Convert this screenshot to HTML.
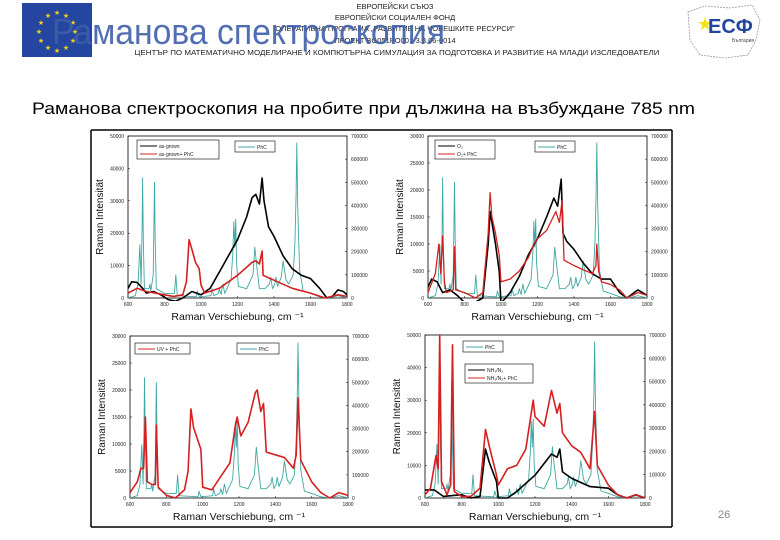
<!DOCTYPE html>
<html><head><meta charset="utf-8"><style>
html,body{margin:0;padding:0;background:#fff;}
svg{display:block;font-family:"Liberation Sans","DejaVu Sans",sans-serif;}
</style></head><body>
<svg id="slide" width="780" height="540" viewBox="0 0 780 540" xmlns="http://www.w3.org/2000/svg">
<g>
<rect x="22" y="3" width="70" height="54" fill="#2446a0"/>
<g fill="#f2d21c" font-size="7" text-anchor="middle">
<text x="57" y="15">★</text><text x="66" y="18">★</text><text x="73" y="25">★</text><text x="75" y="34">★</text><text x="73" y="43">★</text><text x="66" y="50">★</text><text x="57" y="53">★</text><text x="48" y="50">★</text><text x="41" y="43">★</text><text x="39" y="34">★</text><text x="41" y="25">★</text><text x="48" y="18">★</text>
</g></g>
<g font-size="7.5" fill="#222" text-anchor="middle">
<text x="395" y="9">ЕВРОПЕЙСКИ СЪЮЗ</text>
<text x="395" y="20">ЕВРОПЕЙСКИ СОЦИАЛЕН ФОНД</text>
<text x="395" y="31">ОПЕРАТИВНА ПРОГРАМА „РАЗВИТИЕ НА ЧОВЕШКИТЕ РЕСУРСИ"</text>
<text x="395" y="43">ПРОЕКТ BG051PO001-3.3.06-0014</text>
<text x="397" y="55" textLength="525" lengthAdjust="spacingAndGlyphs">ЦЕНТЪР ПО МАТЕМАТИЧНО МОДЕЛИРАНЕ И КОМПЮТЪРНА СИМУЛАЦИЯ ЗА ПОДГОТОВКА И РАЗВИТИЕ НА МЛАДИ ИЗСЛЕДОВАТЕЛИ</text>
</g>
<text x="52" y="44" font-size="36" fill="#3d5ea8" fill-opacity="0.9" textLength="393" lengthAdjust="spacingAndGlyphs">Раманова спектроскопия</text>
<g>
<path d="M688 12 L705 6 L730 8 L752 5 L760 20 L756 40 L748 55 L725 58 L700 55 L690 40 Z" fill="none" stroke="#999" stroke-dasharray="2,1" stroke-width="0.8"/>
<text x="697" y="30" font-size="18" fill="#f2e21c">★</text>
<text x="708" y="33" font-size="20" fill="#2446a0" font-weight="bold">ЕСФ</text>
<text x="732" y="42" font-size="5" fill="#444">България</text>
</g>
<text x="32" y="114" font-size="17" fill="#000" textLength="663" lengthAdjust="spacingAndGlyphs">Раманова спектроскопия на пробите при дължина на възбуждане 785 nm</text>
<g stroke="#000" stroke-width="1.5" fill="none">
<line x1="91" y1="130" x2="672" y2="130"/><line x1="91" y1="130" x2="91" y2="527"/>
<line x1="91" y1="527" x2="672" y2="527"/><line x1="672" y1="130" x2="672" y2="527"/>
</g>
<text x="718" y="518" font-size="11" fill="#888">26</text>
<g id="charts"></g>
</svg>
<script>
const xTicks = [600, 800, 1000, 1200, 1400, 1600, 1800];
const rightTicks = [0, 100000, 200000, 300000, 400000, 500000, 600000, 700000];
const phcX = [600,640,655,665,672,677,680,684,690,715,720,725,738,742,745,749,755,800,855,862,870,975,980,990,1055,1060,1070,1095,1100,1110,1115,1120,1130,1165,1175,1180,1185,1190,1195,1205,1250,1285,1295,1305,1320,1350,1375,1382,1392,1405,1410,1420,1440,1450,1465,1480,1505,1515,1521,1525,1530,1540,1560,1600,1650,1700,1750,1800];
const phcY = [0,10000,60000,230000,60000,300000,520000,250000,40000,40000,60000,30000,100000,300000,500000,250000,40000,20000,20000,100000,10000,5000,30000,5000,10000,40000,10000,20000,40000,15000,40000,60000,20000,80000,200000,330000,220000,340000,150000,50000,40000,100000,220000,140000,40000,40000,60000,90000,40000,60000,90000,50000,90000,160000,80000,60000,100000,250000,450000,670000,400000,120000,30000,20000,5000,0,10000,0];
const tlBlackX = [600,620,650,680,700,740,780,820,860,900,950,1000,1050,1100,1150,1200,1250,1280,1300,1320,1335,1345,1370,1400,1450,1500,1550,1600,1650,1690,1720,1750,1780,1800];
const tlBlackY = [3000,5000,4800,3000,1500,2000,1000,-500,-1000,0,2000,1000,3000,8000,13000,18000,25000,31000,32000,29000,37000,30000,22000,19000,13000,9000,7000,6000,3000,0,500,2500,2000,1000];
const tlRedX = [600,650,700,750,800,850,900,920,935,950,970,990,1000,1020,1100,1200,1280,1300,1320,1335,1340,1400,1500,1600,1680,1750,1800];
const tlRedY = [1500,3000,2000,1500,1000,500,1000,5000,18000,15000,11000,9000,4000,1500,3000,7000,11000,11500,10500,14500,7000,5500,3000,1500,0,1000,500];
const trBlackX = [600,620,650,680,720,760,820,900,930,940,950,970,990,1000,1050,1100,1150,1200,1250,1290,1310,1330,1340,1360,1400,1450,1500,1550,1600,1650,1690,1750,1800];
const trBlackY = [2000,3500,3000,1000,1500,500,-1500,0,10000,16000,14000,10000,5000,-1000,1000,4000,8000,11000,15000,18500,17000,22000,12000,10500,9000,6500,4500,3500,3500,1000,0,1500,500];
const trRedX = [600,640,660,670,680,690,700,738,745,752,800,860,900,930,940,950,970,990,1000,1050,1100,1150,1180,1200,1250,1300,1320,1335,1345,1400,1500,1520,1525,1535,1550,1600,1650,1690,1750,1800];
const trRedY = [1000,4500,10000,4500,11500,3000,1000,1500,9500,1500,1000,0,1000,12000,19500,15000,12000,8000,3000,3500,5000,7500,10000,11000,12500,16000,14000,18000,7000,6000,4500,6000,10000,5000,3000,2500,1500,0,1000,500];
const blRedX = [600,640,660,675,685,695,720,740,745,755,800,850,900,920,935,950,990,1000,1050,1100,1150,1180,1190,1210,1250,1290,1300,1310,1320,1335,1350,1400,1450,1500,1515,1525,1540,1600,1650,1700,1750,1800];
const blRedY = [1000,3000,5500,5500,15000,3000,2500,2500,13500,2000,500,0,1500,5000,16500,13000,9000,2000,1500,4000,6500,13500,15000,11500,14000,19500,20000,18000,16000,17500,8500,8000,7500,5500,8000,18500,7000,3000,1000,0,1000,500];
const brBlackX = [600,650,700,800,850,900,930,950,990,1000,1050,1100,1200,1290,1320,1335,1350,1400,1500,1600,1650,1700,1750,1800];
const brBlackY = [2500,2500,500,1000,0,500,15000,11000,5000,0,0,2000,7000,13500,12500,15000,8000,6000,3500,3000,1000,0,1000,0];
const brRedX = [600,630,660,672,680,690,720,740,750,760,800,850,900,930,950,990,1000,1050,1100,1150,1190,1200,1250,1290,1320,1335,1350,1400,1450,1500,1525,1540,1600,1650,1700,1750,1800];
const brRedY = [1000,3000,13000,9000,50000,5000,1000,4000,47000,2000,500,500,3000,21000,16000,7000,4000,9000,10000,15000,30000,25000,22000,33000,26000,29000,20000,16000,14000,9000,26500,10000,4000,1000,0,1000,0];
const tlLeftTicks = [0,10000,20000,30000,40000,50000];
const trLeftTicks = [0,5000,10000,15000,20000,25000,30000];
const blLeftTicks = [0,5000,10000,15000,20000,25000,30000];
const brLeftTicks = [0,10000,20000,30000,40000,50000];

const NS = 'http://www.w3.org/2000/svg';
const root = document.getElementById('charts');
function mk(tag, attrs, parent){ const e=document.createElementNS(NS,tag); for(const k in attrs) e.setAttribute(k,attrs[k]); parent.appendChild(e); return e; }

function panel(name, box, leftMax, leftTicks, yTitle, series, legends){
  const g = mk('g', {}, root);
  
  
  const sx = v => box.x0 + (v-600)/1200*(box.x1-box.x0);
  const syL = v => box.y1 - v/leftMax*(box.y1-box.y0);
  const syR = v => box.y1 - v/700000*(box.y1-box.y0);
  const fr = mk('rect', {x:box.x0,y:box.y0,width:box.x1-box.x0,height:box.y1-box.y0,fill:'#fff',stroke:'#000','stroke-width':0.8}, g);
  
  
  const clipId = name+'-clip';
  const cp = mk('clipPath',{id:clipId},g); mk('rect',{x:box.x0,y:box.y0-3,width:box.x1-box.x0,height:box.y1-box.y0+6},cp);
  xTicks.forEach(t=>{
    const lab = mk('text',{x:sx(t),y:box.y1+8,'font-size':5,'text-anchor':'middle',fill:'#222'},g); lab.textContent=t;
    
    
    mk('line',{x1:sx(t),x2:sx(t),y1:box.y1,y2:box.y1-2,stroke:'#000','stroke-width':0.5},g);
  });
  leftTicks.forEach(t=>{
    const lab = mk('text',{x:box.x0-4,y:syL(t)+2,'font-size':5,'text-anchor':'end',fill:'#222'},g); lab.textContent=t;
    
    
    mk('line',{x1:box.x0,x2:box.x0+2,y1:syL(t),y2:syL(t),stroke:'#000','stroke-width':0.5},g);
  });
  rightTicks.forEach(t=>{
    const lab = mk('text',{x:box.x1+4,y:syR(t)+2,'font-size':5,fill:'#222'},g); lab.textContent=t;
    
    
    mk('line',{x1:box.x1,x2:box.x1-2,y1:syR(t),y2:syR(t),stroke:'#000','stroke-width':0.5},g);
  });
  const xt = mk('text',{x:(box.x0+box.x1)/2,y:box.y1+22,'font-size':10.5,'text-anchor':'middle',fill:'#111'},g);
  xt.textContent='Raman Verschiebung, cm ⁻¹';
  
  
  const cy=(box.y0+box.y1)/2, cx=box.x0-25;
  const yt = mk('text',{x:cx,y:cy,'font-size':10,'text-anchor':'middle',fill:'#111',transform:`rotate(-90 ${cx} ${cy})`},g);
  yt.textContent=yTitle;
  
  
  series.forEach(s=>{
    const sy = s.right ? syR : syL;
    const pts = s.xs.map((x,i)=>sx(x).toFixed(1)+','+sy(s.ys[i]).toFixed(1)).join(' ');
    const pl = mk('polyline',{points:pts,fill:'none',stroke:s.color,'stroke-width':s.w,'clip-path':`url(#${clipId})`,'stroke-linejoin':'round'},g);
    
    
  });
  legends.forEach(L=>{
    const lg = mk('g',{},g);
    
    
    mk('rect',{x:L.x,y:L.y,width:L.w,height:L.items.length*8+3,fill:'#fff',stroke:'#000','stroke-width':0.6},lg);
    L.items.forEach((it,i)=>{
      const yy=L.y+6+i*8;
      mk('line',{x1:L.x+3,x2:L.x+20,y1:yy,y2:yy,stroke:it.c,'stroke-width':1},lg);
      const t=mk('text',{x:L.x+22,y:yy+2,'font-size':5,fill:'#222'},lg); t.textContent=it.t;
      
      
    });
  });
}
const TEAL='#3fa7a3', RED='#d42020', BLK='#000';
panel('chart-top-left',{x0:128,x1:347,y0:136,y1:298},50000,tlLeftTicks,'Raman Intensität',[
 {name:'phc-series',xs:phcX,ys:phcY,right:true,color:TEAL,w:0.9},
 {name:'as-grown-series',xs:tlBlackX,ys:tlBlackY,color:BLK,w:1.6},
 {name:'as-grown-phc-series',xs:tlRedX,ys:tlRedY,color:RED,w:1.6}],
 [{x:137,y:140,w:82,items:[{c:BLK,t:'as-grown'},{c:RED,t:'as-grown+ PhC'}]},{x:235,y:141,w:40,items:[{c:TEAL,t:'PhC'}]}]);
panel('chart-top-right',{x0:428,x1:647,y0:136,y1:298},30000,trLeftTicks,'Raman Intensität',[
 {name:'phc-series',xs:phcX,ys:phcY,right:true,color:TEAL,w:0.9},
 {name:'o2-series',xs:trBlackX,ys:trBlackY,color:BLK,w:1.6},
 {name:'o2-phc-series',xs:trRedX,ys:trRedY,color:RED,w:1.3}],
 [{x:435,y:140,w:60,items:[{c:BLK,t:'O₂'},{c:RED,t:'O₂+ PhC'}]},{x:535,y:141,w:40,items:[{c:TEAL,t:'PhC'}]}]);
panel('chart-bottom-left',{x0:130,x1:348,y0:336,y1:498},30000,blLeftTicks,'Raman Intensität',[
 {name:'phc-series',xs:phcX,ys:phcY,right:true,color:TEAL,w:0.9},
 {name:'uv-phc-series',xs:blRedX,ys:blRedY,color:RED,w:1.6}],
 [{x:135,y:343,w:55,items:[{c:RED,t:'UV + PhC'}]},{x:237,y:343,w:42,items:[{c:TEAL,t:'PhC'}]}]);
panel('chart-bottom-right',{x0:425,x1:645,y0:335,y1:498},50000,brLeftTicks,'Raman Intensität',[
 {name:'phc-series',xs:phcX,ys:phcY,right:true,color:TEAL,w:0.9},
 {name:'nh3-n2-series',xs:brBlackX,ys:brBlackY,color:BLK,w:1.6},
 {name:'nh3-n2-phc-series',xs:brRedX,ys:brRedY,color:RED,w:1.6}],
 [{x:463,y:341,w:40,items:[{c:TEAL,t:'PhC'}]},{x:465,y:364,w:68,items:[{c:BLK,t:'NH₃/N₂'},{c:RED,t:'NH₃/N₂+ PhC'}]}]);
</script>
</body></html>
